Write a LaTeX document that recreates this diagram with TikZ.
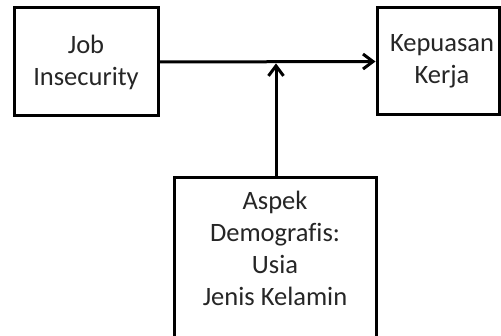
\documentclass[tikz,border=0pt]{standalone}
\usepackage{fontspec}
\setmainfont[Ligatures=NoCommon]{Carlito}
\usetikzlibrary{arrows.meta}
\begin{document}
\begin{tikzpicture}[x=1pt,y=1pt,
  box/.style={draw=black, line width=3pt, rectangle, inner sep=0pt},
  lbl/.style={text=black!85, align=center, font=\fontsize{26.5}{32}\selectfont, inner sep=0pt},
  conn/.style={line width=3pt, -{Straight Barb[length=10pt,width=15pt,line width=3pt]}}]
\useasboundingbox (0,0) rectangle (501,335);
\fill[white] (0,0) rectangle (501,335);
% left box
\node[box, minimum width=144pt, minimum height=108pt] (job) at (86,273) {};
\node[lbl] (jobt) at (86,273) {Job\\Insecurity};
% right box
\node[box, minimum width=122pt, minimum height=107pt] (kep) at (438,273.5) {};
\node[lbl] (kept) at (442,273.5) {Kepuasan\\Kerja};
% bottom box
\node[box, minimum width=202pt, minimum height=162pt] (asp) at (275,76) {};
\node[lbl] (aspt) at (275,87) {Aspek\\Demografis:\\Usia\\Jenis Kelamin};
\coordinate (mid) at (276,273);
\draw[conn] (job.east) -- (kep.west);
\draw[conn] (asp.north -| mid) -- ([yshift=-1.4pt]mid);
\end{tikzpicture}
\end{document}
